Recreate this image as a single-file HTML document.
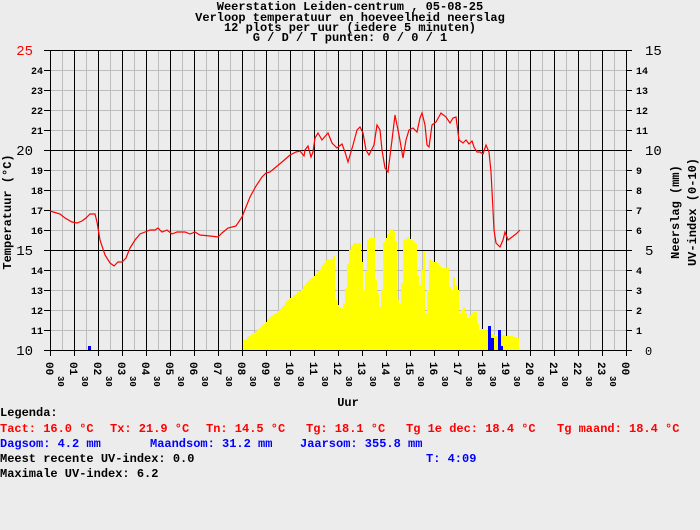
<!DOCTYPE html>
<html><head><meta charset="utf-8"><style>
html,body{margin:0;padding:0;background:#ececec;}
svg{display:block;font-family:"Liberation Mono",monospace;font-weight:bold;}
</style></head><body>
<svg id="s" width="700" height="530" xmlns="http://www.w3.org/2000/svg">
<rect width="700" height="530" fill="#ececec"/>
<g id="grid"></g>
<g id="bars"></g>
<polyline id="temp" fill="none" stroke="#ff0000" stroke-width="1.2"/>
<g font-size="12" text-anchor="middle" fill="#000">
<text x="350" y="10">Weerstation Leiden-centrum , 05-08-25</text>
<text x="350" y="21">Verloop temperatuur en hoeveelheid neerslag</text>
<text x="350" y="31">12 plots per uur (iedere 5 minuten)</text>
<text x="350" y="41">G / D / T punten: 0 / 0 / 1</text>
</g>
<g id="labels"></g>
<text transform="translate(11,212) rotate(-90)" font-size="12" text-anchor="middle">Temperatuur (°C)</text>
<text transform="translate(679,212) rotate(-90)" font-size="12" text-anchor="middle">Neerslag (mm)</text>
<text transform="translate(696,212) rotate(-90)" font-size="12" text-anchor="middle">UV-index (0-10)</text>
<text x="348" y="406" font-size="12" text-anchor="middle">Uur</text>
<g font-size="12">
<text x="0" y="416">Legenda:</text>
<g fill="#ff0000">
<text x="0" y="432">Tact: 16.0 °C</text>
<text x="110" y="432">Tx: 21.9 °C</text>
<text x="206" y="432">Tn: 14.5 °C</text>
<text x="306" y="432">Tg: 18.1 °C</text>
<text x="406" y="432">Tg 1e dec: 18.4 °C</text>
<text x="557" y="432">Tg maand: 18.4 °C</text>
</g>
<g fill="#0000ff">
<text x="0" y="447">Dagsom: 4.2 mm</text>
<text x="150" y="447">Maandsom: 31.2 mm</text>
<text x="300" y="447">Jaarsom: 355.8 mm</text>
<text x="426" y="462">T: 4:09</text>
</g>
<text x="0" y="462">Meest recente UV-index: 0.0</text>
<text x="0" y="477">Maximale UV-index: 6.2</text>
</g>
</svg>
<script>
(function(){
var NS="http://www.w3.org/2000/svg";
function el(p,t,a,txt){var e=document.createElementNS(NS,t);for(var k in a)e.setAttribute(k,a[k]);if(txt!==undefined)e.textContent=txt;p.appendChild(e);return e;}
var g=document.getElementById('grid'),L=document.getElementById('labels');
for(var i=0;i<48;i++){var x=50+i*12; if(i%2)el(g,'line',{x1:x+.5,y1:50,x2:x+.5,y2:350,stroke:'#bdbdbd'});}
for(var d=11;d<25;d++){var y=50+(25-d)*20; if(d!=20&&d!=15)el(g,'line',{x1:44,y1:y+.5,x2:632,y2:y+.5,stroke:'#bdbdbd'});}
for(var d=11;d<25;d++){var y=50+(25-d)*20; el(g,'line',{x1:44,y1:y+.5,x2:50,y2:y+.5,stroke:'#000'});el(g,'line',{x1:626,y1:y+.5,x2:632,y2:y+.5,stroke:'#000'});}
for(var h=0;h<=24;h++){var x=50+h*24; el(g,'line',{x1:x+.5,y1:50,x2:x+.5,y2:356,stroke:'#000'});}
[25,20,15,10].forEach(function(d){var y=50+(25-d)*20; el(g,'line',{x1:44,y1:y+.5,x2:632,y2:y+.5,stroke:'#000'});});
for(var d=10;d<=25;d++){var y=50+(25-d)*20;
 if(d%5==0) el(L,'text',{x:33,y:y+5,'font-size':14,'font-weight':'normal','text-anchor':'end',fill:d==25?'#ff0000':'#000'},d);
 else el(L,'text',{x:43,y:y+4,'font-size':10,'text-anchor':'end'},d);
 var r=d-10;
 if(r%5==0&&r>0) el(L,'text',{x:645,y:y+5,'font-size':14,'font-weight':'normal'},r);
 else if(r==0) el(L,'text',{x:645,y:y+5,'font-size':12,'font-weight':'normal'},r);
 else el(L,'text',{x:636,y:y+4,'font-size':10},r);
}
for(var h=0;h<=24;h++){var x=50+h*24;var hh=h%24;var s=(hh<10?'0':'')+hh;
 el(L,'text',{transform:'translate('+(x-4)+',362) rotate(90)','font-size':11},s);
 if(h<24) el(L,'text',{transform:'translate('+(x+8)+',376) rotate(90)','font-size':9},'30');
}
var T=[[50,211],[60,214],[65,218],[72,222],[77,223],[82,221],[86,218],[90,214],[95,214],[97,222],[100,240],[105,255],[110,263],[114,266],[118,262],[122,262],[126,258],[130,248],[135,240],[140,234],[145,232],[150,230],[155,230],[158,228],[162,232],[167,230],[172,234],[177,232],[185,232],[190,234],[195,232],[200,235],[210,236],[218,237],[222,233],[228,228],[236,226],[240,220],[242,217],[250,197],[256,186],[262,177],[266,173],[270,172],[276,167],[282,162],[290,155],[296,152],[300,151],[304,156],[305,150],[308,146],[311,157],[313,152],[315,138],[318,133],[322,140],[328,133],[332,143],[337,148],[342,144],[345,152],[348,162],[353,145],[357,130],[360,127],[363,133],[366,150],[369,155],[374,145],[377,125],[380,130],[382,150],[385,168],[388,172],[392,140],[395,115],[399,135],[403,158],[406,140],[409,130],[413,128],[417,132],[420,118],[422,113],[425,125],[427,145],[429,147],[432,125],[436,122],[441,113],[446,117],[450,123],[453,118],[456,117],[459,140],[463,143],[466,140],[469,144],[472,141],[474,147],[477,152],[480,152],[483,154],[486,145],[489,152],[491,172],[493,210],[494,230],[496,243],[500,247],[503,240],[505,232],[508,240],[512,237],[516,234],[520,230]];
document.getElementById('temp').setAttribute('points',T.map(function(p){return p.join(',')}).join(' '));
var B=[[243,340],[250,335],[256,330],[262,325],[268,318],[275,313],[281,307],[287,300],[293,295],[300,290],[306,282],[313,276],[318,270],[322,265],[326,258],[330,260],[333,256],[335,300],[337,305],[340,310],[344,300],[348,252],[351,246],[353,243],[360,243],[362,280],[364,300],[366,242],[368,238],[373,238],[375,280],[378,300],[380,313],[383,242],[385,238],[390,227],[393,232],[396,245],[397,300],[400,305],[403,240],[407,237],[411,240],[415,243],[418,293],[421,270],[423,252],[425,313],[427,290],[429,260],[437,263],[441,268],[447,268],[450,297],[453,277],[455,285],[457,290],[459,313],[463,307],[467,318],[470,313],[475,312],[478,330],[482,328],[486,330],[490,333],[496,336],[500,335],[510,336],[517,338]];
function barTop(x){for(var i=1;i<B.length;i++){if(x<=B[i][0]){var a=B[i-1],b=B[i];return a[1]+(b[1]-a[1])*(x-a[0])/(b[0]-a[0]);}}return 340;}
var bg=document.getElementById('bars');
var dd='';
for(var x=243;x<518;x+=2){var t=Math.round(barTop(x));dd+='M'+x+' '+t+'h2V350H'+x+'Z';}
el(bg,'path',{d:dd,fill:'#ffff00'});
el(bg,'rect',{x:488,y:326,width:3,height:24,fill:'#0000ff'});
el(bg,'rect',{x:491,y:338,width:3,height:12,fill:'#0000ff'});
el(bg,'rect',{x:498,y:330,width:3,height:20,fill:'#0000ff'});
el(bg,'rect',{x:501,y:346,width:2,height:4,fill:'#0000ff'});
el(bg,'rect',{x:88,y:346,width:3,height:4,fill:'#0000ff'});
})();
</script>
</body></html>
